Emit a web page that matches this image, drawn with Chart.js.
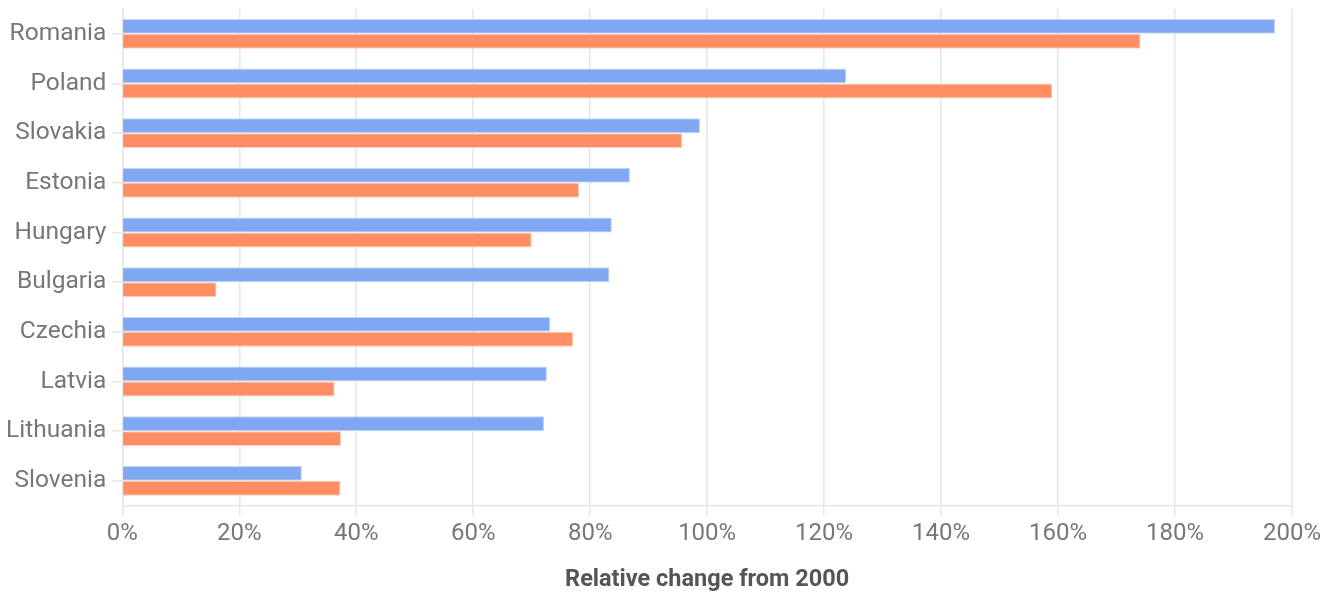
<!DOCTYPE html>
<html>
<head>
<meta charset="utf-8">
<script src="https://cdn.jsdelivr.net/npm/chart.js@4"></script>
<style>
  html, body { margin: 0; padding: 0; background: #fff; }
  #wrap { width: 1336px; height: 592px; }
</style>
</head>
<body>
<div id="wrap"><canvas id="changeChart"></canvas></div>
<script>
const countries = ["Romania", "Poland", "Slovakia", "Estonia", "Hungary", "Bulgaria", "Czechia", "Latvia", "Lithuania", "Slovenia"];
const seriesBlue = [197.1, 123.8, 98.8, 86.8, 83.7, 83.3, 73.2, 72.6, 72.1, 30.7];
const seriesOrange = [174.1, 159.0, 95.7, 78.1, 70.0, 16.1, 77.1, 36.3, 37.4, 37.3];
const xTicks = [0, 20, 40, 60, 80, 100, 120, 140, 160, 180, 200];

const gridGray = '#e6e6e6';
const labelGray = '#777777';

const ctx = document.getElementById('changeChart').getContext('2d');
const changeChart = new Chart(ctx, {
    type: 'bar',
    data: {
        labels: countries,
        datasets: [
            {
                label: 'Series 1',
                data: seriesBlue,
                backgroundColor: '#80a8f2',
                borderColor: '#c4d6f9',
                borderWidth: 1,
                categoryPercentage: 0.6,
                barPercentage: 1.0
            },
            {
                label: 'Series 2',
                data: seriesOrange,
                backgroundColor: '#ff8f62',
                borderColor: '#ffcdb8',
                borderWidth: 1,
                categoryPercentage: 0.6,
                barPercentage: 1.0
            }
        ]
    },
    options: {
        indexAxis: 'y',
        responsive: true,
        maintainAspectRatio: false,
        animation: false,
        layout: { padding: { top: 0, right: 0, bottom: 0, left: 0 } },
        plugins: {
            legend: { display: false },
            tooltip: { enabled: false }
        },
        scales: {
            x: {
                min: 0,
                max: 200,
                afterBuildTicks: axis => { axis.ticks = xTicks.map(v => ({ value: v })); },
                // leave room on the right for the "200%" label
                afterFit: s => { s.paddingRight = 44; s.paddingLeft = 0; },
                grid: { color: gridGray, lineWidth: 1.5, tickLength: 10 },
                border: { color: gridGray, width: 1.5 },
                ticks: {
                    color: labelGray,
                    font: { family: 'Roboto', size: 24 },
                    padding: 4,
                    maxRotation: 0,
                    callback: v => v + '%'
                },
                title: {
                    display: true,
                    text: 'Relative change from 2000',
                    color: '#555555',
                    font: { family: 'Roboto', size: 23.5, weight: 'bold', lineHeight: 1 },
                    padding: { top: 16, bottom: 0 }
                }
            },
            y: {
                // category bands already hold the labels, so keep the plot close to the top edge
                afterFit: s => { s.paddingTop = 9; s.paddingBottom = 0; },
                grid: { offset: false, drawOnChartArea: false, color: gridGray, lineWidth: 1.5, tickLength: 10 },
                border: { color: gridGray, width: 1.5 },
                ticks: {
                    color: labelGray,
                    font: { family: 'Roboto', size: 24.5 },
                    padding: 6
                }
            }
        }
    }
});
</script>
</body>
</html>
